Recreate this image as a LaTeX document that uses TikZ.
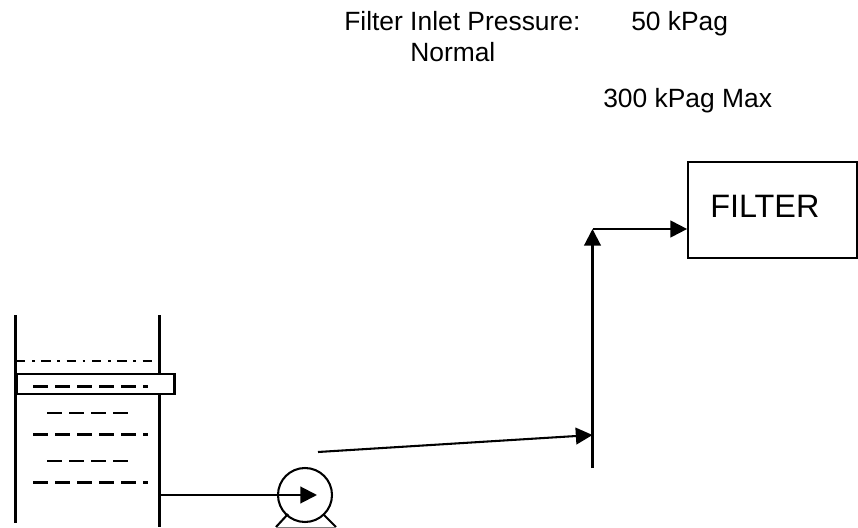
\documentclass[tikz,border=0pt]{standalone}
\usepackage{fontspec}
\setmainfont{Liberation Sans}
\usetikzlibrary{arrows.meta}
\tikzset{
	pipe/.style={line width=1.55pt},
	flow/.style={pipe,-{Triangle[length=12.5pt,width=12.5pt]}},
	liquid/.style={line width=1.55pt,dash pattern=on 11.5pt off 5pt},
	label/.style={font=\fontsize{19.8pt}{24pt}\selectfont,anchor=base west,inner sep=0pt}
}
\begin{document}
\begin{tikzpicture}[x=0.75pt,y=-0.75pt]
	\useasboundingbox (0,0) rectangle (858,528);
	% texts
	\node[label] (inlet) at (344,31) {Filter Inlet Pressure:};
	\node[label] (normal) at (410,62) {Normal};
	\node[label] (fifty) at (631,31) {50 kPag};
	\node[label] (max) at (603,108) {300 kPag Max};
	% tank
	\draw[pipe] (15.5,315)--(15.5,523);
	\draw[pipe] (159.5,315)--(159.5,527);
	\draw[line width=1.55pt,dash pattern=on 7pt off 5pt on 2pt off 5pt] (16,361)--(156,361);
	\draw[liquid] (33,434.5)--(148,434.5);
	\draw[liquid] (33,482.5)--(148,482.5);
	\draw[liquid] (47,413)--(129,413);
	\draw[liquid] (47,461)--(129,461);
	\node[draw,line width=1.55pt,fill=white,minimum width=118.5pt,minimum height=14.5pt,inner sep=0pt] (gauge) at (95.5,384) {};
	\draw[liquid] (33,386.5)--(148,386.5);
	% pump
	\node[draw,circle,line width=1.55pt,minimum size=40.5pt,inner sep=0pt] (pump) at (305,495) {};
	\coordinate (tankout) at (159,495);
	\coordinate (pumpin) at (317,495);
	\draw[flow] (tankout)--(pumpin);
	\draw[pipe] (288,514)--(276,527);
	\draw[pipe] (323,514)--(336,527);
	\draw[line width=1.4pt,color=gray] (276,527.5)--(336,527.5);
	% filter and line
	\node[draw,line width=1.55pt,minimum width=126.5pt,minimum height=72pt,inner sep=0pt] (filter) at (772.5,210) {};
	\node[font=\fontsize{24.3pt}{29pt}\selectfont,anchor=base west,inner sep=0pt] (filtertext) at (710,218) {FILTER};
	\coordinate (disch) at (318,452);
	\coordinate (tee) at (592.5,435);
	\coordinate (riserfoot) at (592.5,468);
	\coordinate (riser) at (592.5,229);
	\coordinate (inlet port) at (filter.west |- riser);
	\draw[flow] (disch)--(tee);
	\draw[flow] (riserfoot)--(riser);
	\draw[flow] (riser)--(inlet port);
\end{tikzpicture}
\end{document}
